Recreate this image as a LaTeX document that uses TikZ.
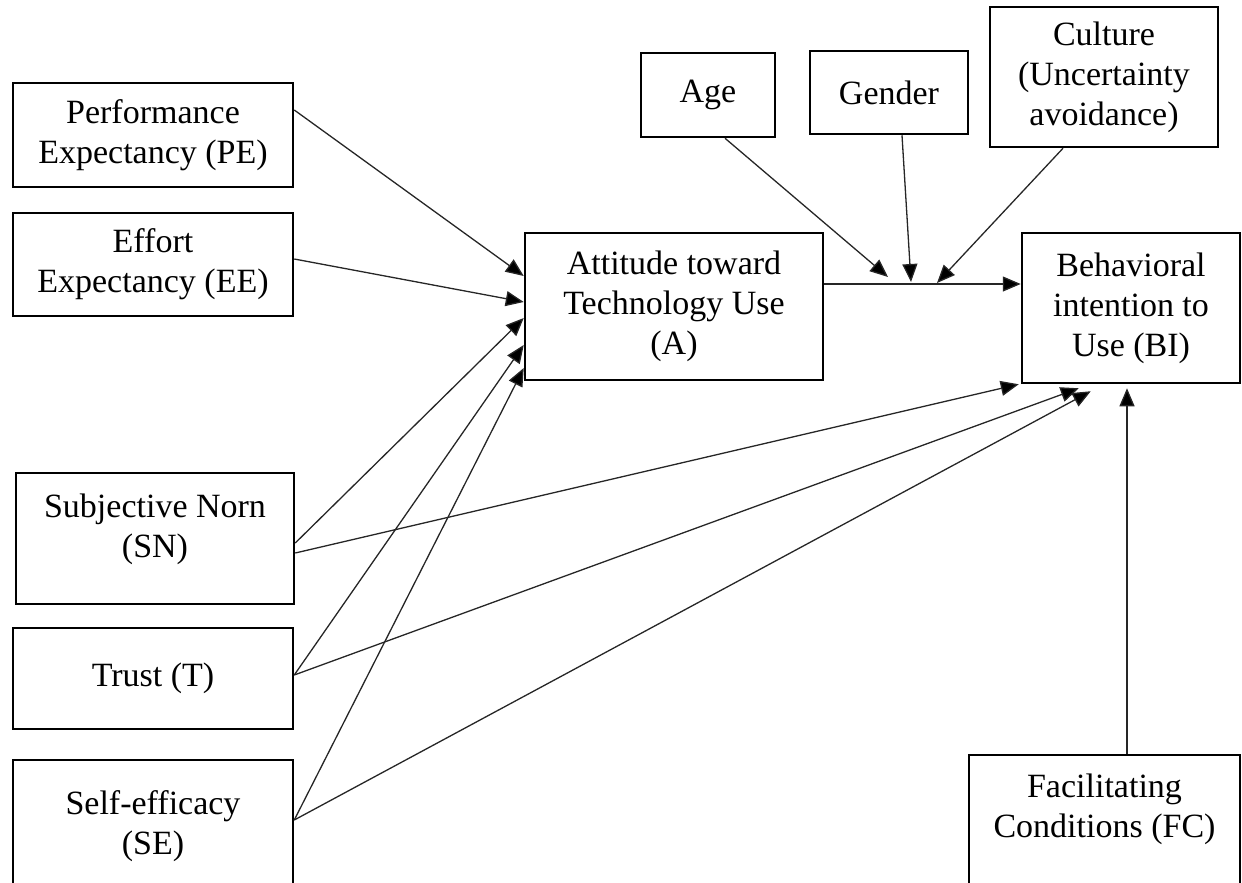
\documentclass[tikz,border=0pt]{standalone}
\usepackage{fontspec}
\setmainfont{Liberation Serif}
\usetikzlibrary{arrows.meta,calc}
\begin{document}
\begin{tikzpicture}[x=1pt,y=-1pt,
  box/.style={draw=black, line width=2.5pt, align=center, inner sep=0pt,
    font=\fontsize{34}{40}\selectfont},
  link/.style={draw=black!85, line width=1.3pt,
    -{Triangle[length=18pt,width=15pt,fill=black]}},
]
\useasboundingbox (0,0) rectangle (1242,883);

% predictors on the left
\node[box, minimum width=280pt, minimum height=104pt] (PE) at (153,135) {Performance\\Expectancy (PE)};
\node[box, minimum width=280pt, minimum height=103pt] (EE) at (153,264.5) {Effort\\Expectancy (EE)};
\node[box, minimum width=278pt, minimum height=131pt] (SN) at (155,538.5) {Subjective Norn\\(SN)\rule[-25pt]{0pt}{0pt}};
\node[box, minimum width=280pt, minimum height=101pt] (T) at (153,678.5) {Trust (T)};
\node[box, minimum width=280pt, minimum height=132pt] (SE) at (153,826) {Self-efficacy\\(SE)};

% mediator and outcome
\node[box, minimum width=298pt, minimum height=147pt] (A) at (674,306.5) {Attitude toward\\Technology Use\\(A)};
\node[box, minimum width=218pt, minimum height=150pt] (BI) at (1131,308) {Behavioral\\intention to\\Use (BI)};

% moderators
\node[box, minimum width=134pt, minimum height=84pt] (Age) at (708,95) {Age};
\node[box, minimum width=158pt, minimum height=83pt] (Gender) at (889,92.5) {Gender};
\node[box, minimum width=228pt, minimum height=140pt] (Culture) at (1104,77) {Culture\\(Uncertainty\\avoidance)};

% facilitating conditions
\node[box, minimum width=271pt, minimum height=150pt] (FC) at (1104.5,830) {Facilitating\\Conditions (FC)\rule[-48pt]{0pt}{0pt}};

% points on the A -> BI path where the moderators act
\coordinate (ageTip) at (888,277);
\coordinate (genderTip) at (911,282);
\coordinate (cultureTip) at (937,283);

% paths into A
\draw[link] ($(PE.east)+(0,-25)$) -- ($(A.west)+(0,-30.5)$);
\draw[link] ($(EE.east)+(0,-5.5)$) -- ($(A.west)+(0,-4.5)$);
\draw[link] ($(SN.east)+(0,4.5)$) -- ($(A.west)+(0,11.5)$);
\draw[link] ($(T.east)+(0,-3.5)$) -- ($(A.west)+(0,38.5)$);
\draw[link] ($(SE.east)+(0,-6)$) -- ($(A.west)+(0,61.5)$);

% paths into BI
\draw[link] ($(A.east)+(0,-22.5)$) -- ($(BI.west)+(0,-24)$);
\draw[link] ($(SN.east)+(0,14.5)$) -- ($(BI.south west)+(-2,0)$);
\draw[link] ($(T.east)+(0,-3.5)$) -- ($(BI.south west)+(58,4)$);
\draw[link] ($(SE.east)+(0,-6)$) -- ($(BI.south west)+(70,7)$);
\draw[link] ($(FC.north)+(22.5,0)$) -- ($(BI.south)+(-4,4)$);

% moderating arrows
\draw[link] ($(Age.south)+(17,0)$) -- (ageTip);
\draw[link] ($(Gender.south)+(13,0)$) -- (genderTip);
\draw[link] ($(Culture.south)+(-41,0)$) -- (cultureTip);
\end{tikzpicture}
\end{document}
